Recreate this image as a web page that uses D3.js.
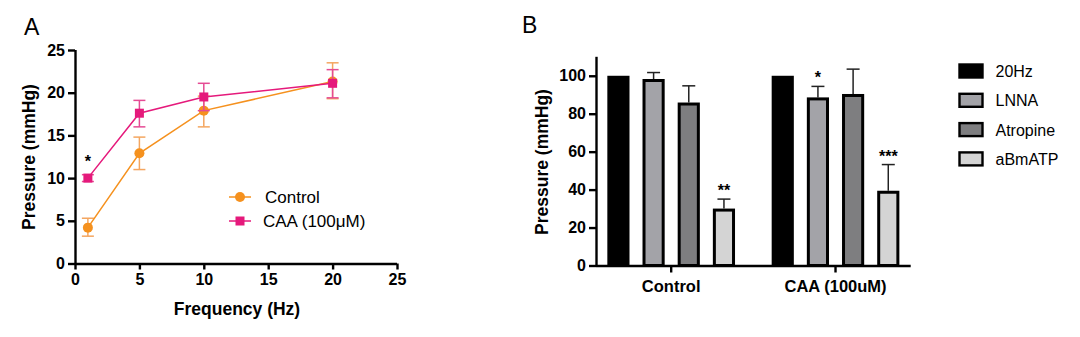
<!DOCTYPE html>
<html><head><meta charset="utf-8">
<script src="https://cdn.jsdelivr.net/npm/d3@7"></script>
<style>body{margin:0;background:#fff;}svg{display:block;font-family:Arial,"Liberation Sans",sans-serif;}</style>
</head><body>
<svg id="c" width="1080" height="337"></svg>
<script>
// ---------- Panel A data ----------
const freqs = [1, 5, 10, 20];
const controlMean = [4.2, 12.9, 17.9, 21.3];
const controlLow = [3.2, 11.0, 16.0, 19.3];
const controlHigh = [5.3, 14.8, 19.6, 23.5];
const caaMean = [10.0, 17.6, 19.5, 21.1];
const caaLow = [9.6, 16.0, 17.9, 19.4];
const caaHigh = [10.4, 19.1, 21.1, 22.7];
const xTicksA = [0, 5, 10, 15, 20, 25];
const yTicksA = [0, 5, 10, 15, 20, 25];
const seriesA = ["Control", "CAA (100\u03BCM)"];

// ---------- Panel B data ----------
const groupsB = ["Control", "CAA (100uM)"];
const treatments = ["20Hz", "LNNA", "Atropine", "aBmATP"];
const valsControl = [100, 98.3, 85.9, 30.0];
const errControl = [0, 3.4, 8.8, 5.0];
const valsCAA = [100, 88.6, 90.4, 39.4];
const errCAA = [0, 5.8, 13.1, 13.8];
const sigControl = ["", "", "", "**"];
const sigCAA = ["", "*", "", "***"];
const yTicksB = [0, 20, 40, 60, 80, 100];

const svg = d3.select("#c");
const ORANGE = "#f5911e", MAGENTA = "#e5197b";
const fillsB = ["#000000", "#a3a3a8", "#7e7e80", "#d4d4d4"];
const TICKFS = 16, TITLEFS = 17.5;

// ================= Panel A =================
const xA = d3.scaleLinear().domain([0, 25]).range([75, 397]);
const yA = d3.scaleLinear().domain([0, 25]).range([263.5, 50]);
const gA = svg.append("g");

const axA = gA.append("g").attr("transform", "translate(0,263.5)")
  .call(d3.axisBottom(xA).tickValues(xTicksA).tickSize(6).tickPadding(4));
const ayA = gA.append("g").attr("transform", "translate(75,0)")
  .call(d3.axisLeft(yA).tickValues(yTicksA).tickSize(7).tickPadding(3));
[axA, ayA].forEach(a => {
  a.selectAll("path,line").attr("stroke", "#000").attr("stroke-width", 2.4);
  a.selectAll("text").attr("font-size", TICKFS).attr("font-weight", "bold").attr("fill", "#000");
});
axA.select(".domain").attr("d", `M75,0.5H397`);
ayA.select(".domain").attr("d", `M0.5,50V263.5`);

gA.append("text").attr("x", 237).attr("y", 315).attr("text-anchor", "middle")
  .attr("font-size", TITLEFS).attr("font-weight", "bold").text("Frequency (Hz)");
gA.append("text").attr("transform", "translate(35,157) rotate(-90)").attr("text-anchor", "middle")
  .attr("font-size", TITLEFS).attr("font-weight", "bold").text("Pressure (mmHg)");
gA.append("text").attr("x", 24).attr("y", 35).attr("font-size", 23).text("A");

function drawSeries(mean, lo, hi, color, errColor, shape) {
  const pts = freqs.map((f, i) => ({f, m: mean[i], lo: lo[i], hi: hi[i]}));
  const line = d3.line().x(d => xA(d.f)).y(d => yA(d.m));
  pts.forEach(d => {
    gA.append("line").attr("x1", xA(d.f)).attr("x2", xA(d.f)).attr("y1", yA(d.lo)).attr("y2", yA(d.hi))
      .attr("stroke", errColor).attr("stroke-width", 1.5);
    [d.lo, d.hi].forEach(v => gA.append("line").attr("x1", xA(d.f) - 6).attr("x2", xA(d.f) + 6)
      .attr("y1", yA(v)).attr("y2", yA(v)).attr("stroke", errColor).attr("stroke-width", 1.5));
  });
  gA.append("path").datum(pts).attr("d", line).attr("fill", "none").attr("stroke", color).attr("stroke-width", 1.5);
  pts.forEach(d => {
    if (shape === "circle") gA.append("circle").attr("cx", xA(d.f)).attr("cy", yA(d.m)).attr("r", 5).attr("fill", color);
    else gA.append("rect").attr("x", xA(d.f) - 4.5).attr("y", yA(d.m) - 4.5).attr("width", 9).attr("height", 9).attr("fill", color);
  });
}
drawSeries(controlMean, controlLow, controlHigh, ORANGE, "#f4a660", "circle");
drawSeries(caaMean, caaLow, caaHigh, MAGENTA, "#e54b94", "square");
gA.append("text").attr("x", xA(1)).attr("y", yA(11.3)).attr("text-anchor", "middle")
  .attr("font-size", 16).attr("font-weight", "bold").text("*");

// legend A
const legA = gA.append("g");
seriesA.forEach((s, i) => {
  const y = 197 + i * 24;
  const c = i === 0 ? ORANGE : MAGENTA;
  legA.append("line").attr("x1", 229).attr("x2", 251).attr("y1", y).attr("y2", y).attr("stroke", c).attr("stroke-width", 1.5);
  if (i === 0) legA.append("circle").attr("cx", 240).attr("cy", y).attr("r", 5).attr("fill", c);
  else legA.append("rect").attr("x", 235.5).attr("y", y - 4.5).attr("width", 9).attr("height", 9).attr("fill", c);
  legA.append("text").attr("x", i === 0 ? 265 : 263).attr("y", y + 6).attr("font-size", 17).text(s);
});

// ================= Panel B =================
const yB = d3.scaleLinear().domain([0, 110]).range([265.5, 56.8]);
const x0 = d3.scaleBand().domain(groupsB).range([596, 910.7]).paddingInner(0.223).paddingOuter(0.069);
const x1 = d3.scaleBand().domain(treatments).range([0, x0.bandwidth()]).paddingInner(0.37).paddingOuter(0);
const gB = svg.append("g");

const dataB = groupsB.map((g, gi) => treatments.map((t, ti) => ({
  g, t, ti,
  v: gi === 0 ? valsControl[ti] : valsCAA[ti],
  e: gi === 0 ? errControl[ti] : errCAA[ti],
  s: gi === 0 ? sigControl[ti] : sigCAA[ti]
}))).flat();

const sw = 3;
dataB.forEach(d => {
  const bx = x0(d.g) + x1(d.t);
  const bw = x1.bandwidth();
  if (d.e > 0) {
    const cx = bx + bw / 2;
    gB.append("line").attr("x1", cx).attr("x2", cx).attr("y1", yB(d.v)).attr("y2", yB(d.v + d.e))
      .attr("stroke", "#222").attr("stroke-width", 1.5);
    gB.append("line").attr("x1", cx - 6.5).attr("x2", cx + 6.5).attr("y1", yB(d.v + d.e)).attr("y2", yB(d.v + d.e))
      .attr("stroke", "#222").attr("stroke-width", 1.5);
  }
  gB.append("rect").attr("x", bx + sw / 2).attr("y", yB(d.v) + sw / 2)
    .attr("width", bw - sw).attr("height", yB(0) - yB(d.v) - sw / 2)
    .attr("fill", fillsB[d.ti]).attr("stroke", "#000").attr("stroke-width", sw);
  if (d.s) gB.append("text").attr("x", bx + bw / 2).attr("y", yB(d.v + d.e) - 3).attr("text-anchor", "middle")
    .attr("font-size", 16).attr("font-weight", "bold").text(d.s);
});

const axB = gB.append("g").attr("transform", "translate(0,265.5)")
  .call(d3.axisBottom(x0).tickSize(7).tickPadding(8));
const ayB = gB.append("g").attr("transform", "translate(596,0)")
  .call(d3.axisLeft(yB).tickValues(yTicksB).tickSize(7).tickPadding(3));
[axB, ayB].forEach(a => {
  a.selectAll("path,line").attr("stroke", "#000").attr("stroke-width", 2.4);
  a.selectAll("text").attr("font-size", TICKFS).attr("font-weight", "bold").attr("fill", "#000");
});
axB.selectAll(".tick text").attr("font-size", 16.5);
axB.select(".domain").attr("d", `M596,0.5H910.7`);
ayB.select(".domain").attr("d", `M0.5,56.8V265.5`);

gB.append("text").attr("transform", "translate(548,162) rotate(-90)").attr("text-anchor", "middle")
  .attr("font-size", TITLEFS).attr("font-weight", "bold").text("Pressure (mmHg)");
gB.append("text").attr("x", 522).attr("y", 33).attr("font-size", 23).text("B");

// legend B
treatments.forEach((t, i) => {
  const y = 71 + i * 29.3;
  gB.append("rect").attr("x", 959.5).attr("y", y - 6.5).attr("width", 23).attr("height", 13)
    .attr("fill", fillsB[i]).attr("stroke", "#000").attr("stroke-width", 2.4);
  gB.append("text").attr("x", 995.5).attr("y", y + 6).attr("font-size", 16).text(t);
});
</script>
</body></html>
